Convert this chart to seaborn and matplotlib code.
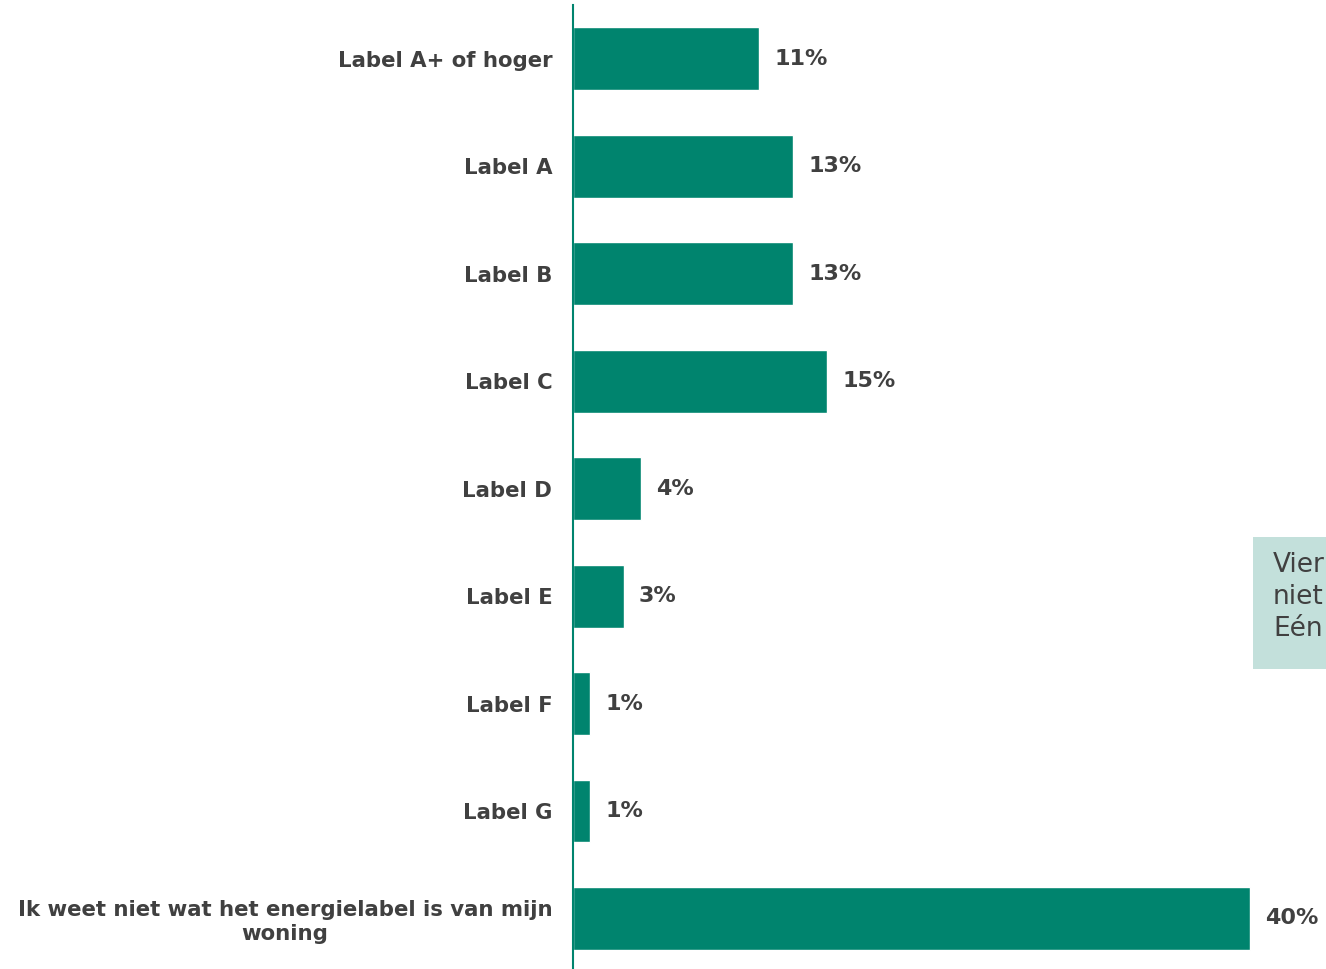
import matplotlib.pyplot as plt
import seaborn as sns
import pandas as pd
from matplotlib.patches import Rectangle

# data
categories = ['Label A+ of hoger', 'Label A', 'Label B', 'Label C', 'Label D',
              'Label E', 'Label F', 'Label G',
              'Ik weet niet wat het energielabel is van mijn\nwoning']
values = [11, 13, 13, 15, 4, 3, 1, 1, 40]

bar_color = '#00846E'
text_color = '#404040'

sns.set_theme(style='white')
plt.rcParams['font.family'] = ['DejaVu Sans']

df = pd.DataFrame({'cat': categories, 'val': values})

W, H = 1326, 969
fig = plt.figure(figsize=(W / 100, H / 100), dpi=100)
ax = fig.add_axes([573 / W, 0, 753 / W, 964 / H])

sns.barplot(data=df, x='val', y='cat', color=bar_color, width=0.585,
            saturation=1, ax=ax)

ax.set_xlim(0, 753 / 16.92)
ax.set_ylim(8.47, -0.5)
ax.set_xlabel('')
ax.set_ylabel('')
ax.set_xticks([])

for s in ['top', 'right', 'bottom']:
    ax.spines[s].set_visible(False)
ax.spines['left'].set_color(bar_color)
ax.spines['left'].set_linewidth(1.5)

ax.tick_params(axis='y', length=0, pad=15)
for lab in ax.get_yticklabels():
    lab.set_fontsize(15.3)
    lab.set_fontweight('bold')
    lab.set_color(text_color)
    lab.set_multialignment('center')

ax.bar_label(ax.containers[0], labels=[f'{v}%' for v in values], padding=11,
             fontsize=16, fontweight='bold', color=text_color)

# cut-off note box on the right
fig.patches.append(Rectangle((1253 / W, 1 - 669 / H), 80 / W, 132 / H,
                             transform=fig.transFigure, facecolor='#C3E0DB',
                             edgecolor='none'))
fig.text(1273 / W, 1 - 597 / H, 'Vier\nniet\nEén', fontsize=19,
         color=text_color, va='center', ha='left', multialignment='left',
         linespacing=1.3)

fig.savefig('out.png', dpi=100)
